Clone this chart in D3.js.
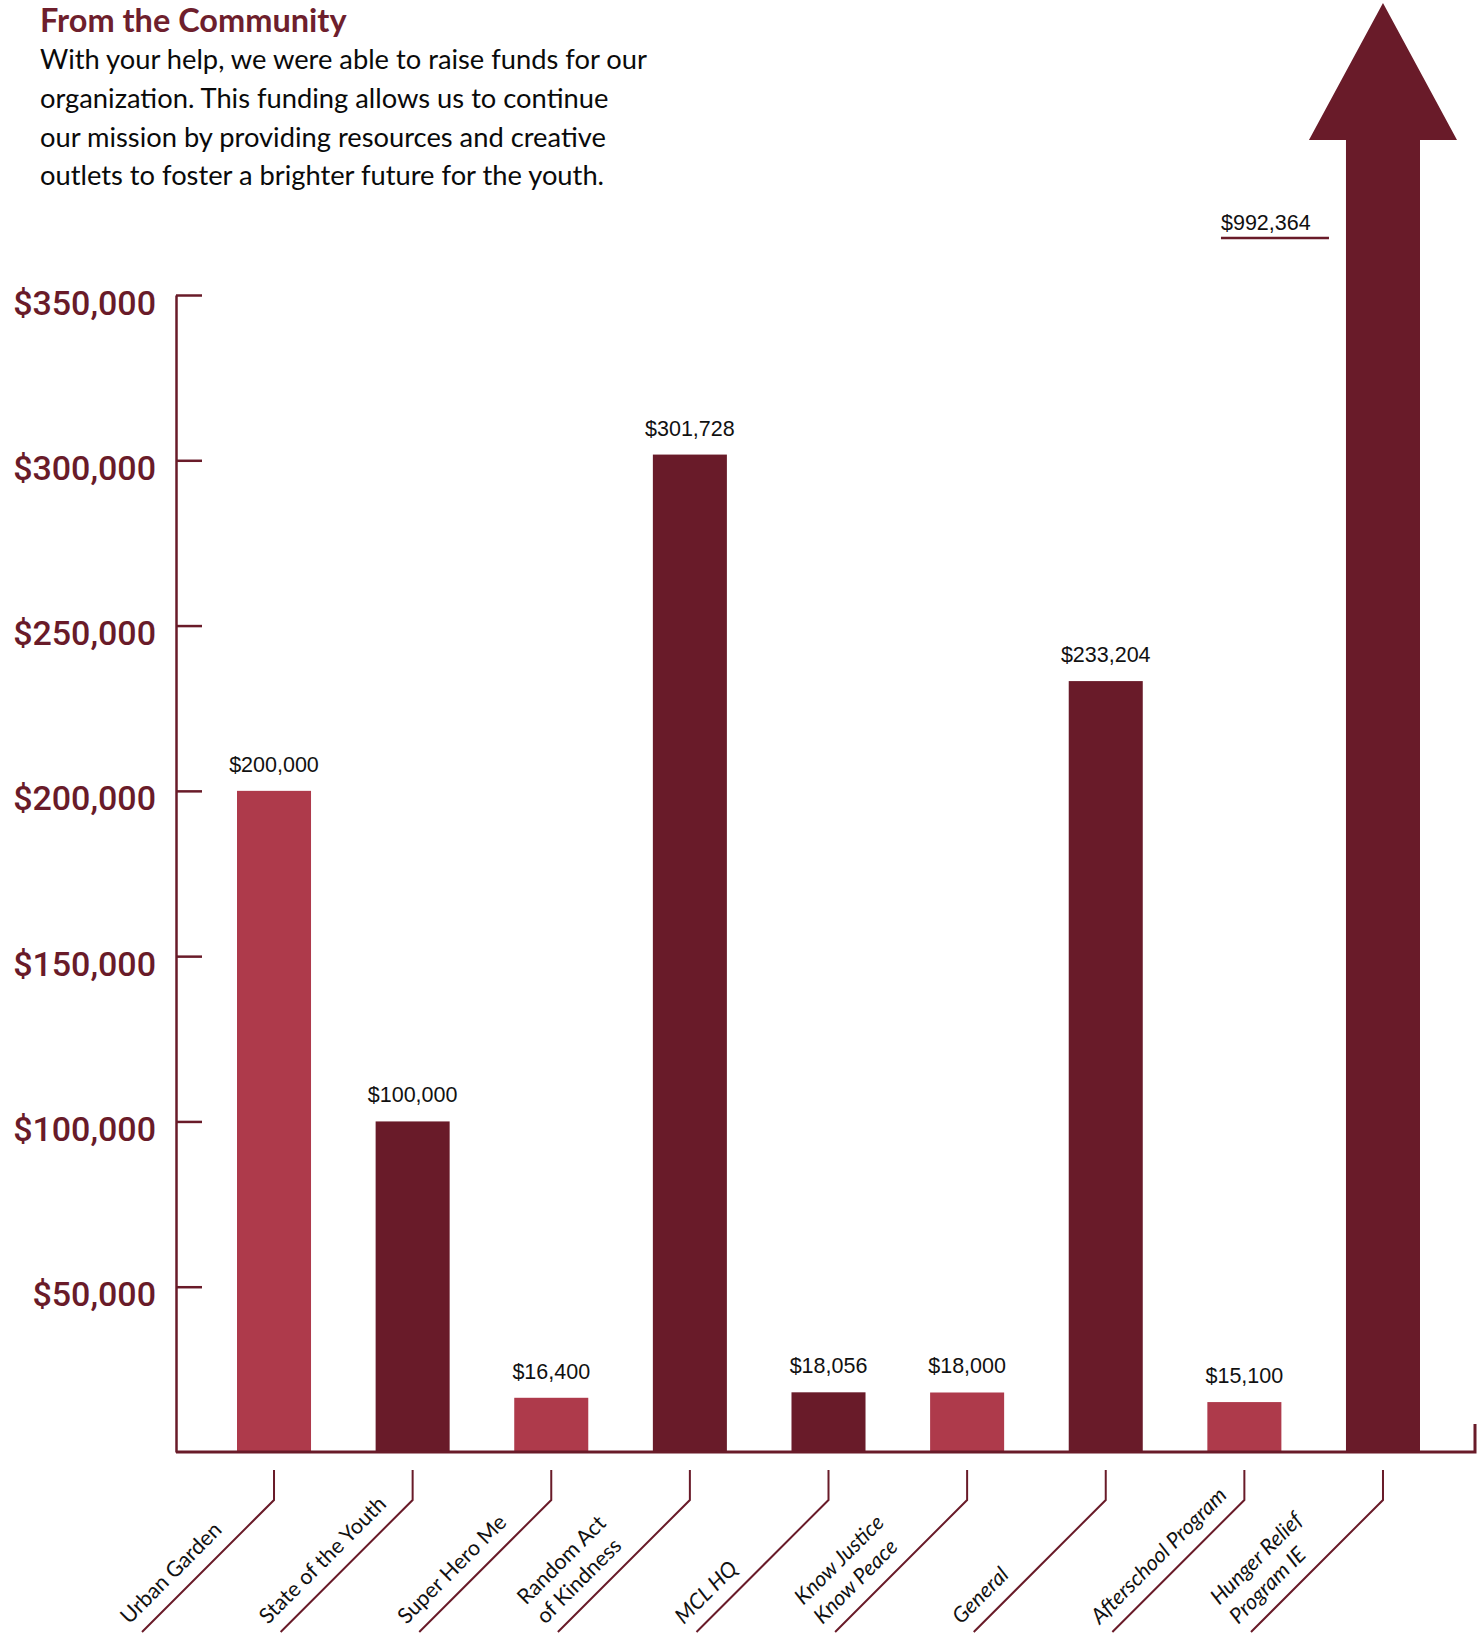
<!DOCTYPE html>
<html>
<head>
<meta charset="utf-8">
<script src="https://cdn.jsdelivr.net/npm/d3@7"></script>
<style>
  body { margin: 0; background: #fff; }
  svg { display: block; }
</style>
</head>
<body>
<script>
// data
const categories = ["Urban Garden", "State of the Youth", "Super Hero Me", "Random Act of Kindness", "MCL HQ",
  "Know Justice Know Peace", "General", "Afterschool Program", "Hunger Relief Program IE"];
const labelLines = [["Urban Garden"], ["State of the Youth"], ["Super Hero Me"], ["Random Act", "of Kindness"], ["MCL HQ"],
  ["Know Justice", "Know Peace"], ["General"], ["Afterschool Program"], ["Hunger Relief", "Program IE"]];
const amounts = [200000, 100000, 16400, 301728, 18056, 18000, 233204, 15100, 992364];
const shades = ["light", "dark", "light", "dark", "dark", "light", "dark", "light", "dark"];
const yTicks = [50000, 100000, 150000, 200000, 250000, 300000, 350000];
const title = "From the Community";
const intro = [
  "With your help, we were able to raise funds for our",
  "organization. This funding allows us to continue",
  "our mission by providing resources and creative",
  "outlets to foster a brighter future for the youth."
];

const W = 1477, H = 1642;
const maroon = "#691b29";
const colors = { light: "#ae3a4b", dark: "#691b29" };
const yMax = 350000;

const svg = d3.select("body").append("svg").attr("width", W).attr("height", H);

// header
svg.append("text")
  .attr("x", 40).attr("y", 32)
  .style("font-family", "Lato, sans-serif").style("font-weight", 700).style("font-size", "32.5px")
  .attr("fill", "#6e1f2d")
  .text(title);

svg.append("g").selectAll("text")
  .data(intro)
  .join("text")
  .attr("x", 40)
  .attr("y", (d, i) => 69 + i * 38.8)
  .style("font-family", "Lato, sans-serif").style("font-size", "27.3px")
  .attr("fill", "#0a0a0a")
  .text((d) => d);

// scales
const x = d3.scaleBand().domain(categories).range([237, 1420]).paddingInner(0.466).paddingOuter(0);
const y = d3.scaleLinear().domain([0, yMax]).range([1452, 295]);
const bw = x.bandwidth();
const axisX = 176;

// y axis
const yAxis = svg.append("g")
  .attr("transform", `translate(${axisX},0)`)
  .call(d3.axisLeft(y).tickValues(yTicks).tickSize(-26).tickSizeOuter(0).tickPadding(20)
    .tickFormat((d) => "$" + d3.format(",")(d)));
yAxis.select(".domain").attr("stroke", maroon).attr("stroke-width", 2.5);
yAxis.selectAll(".tick line").attr("stroke", maroon).attr("stroke-width", 2.5);
yAxis.selectAll(".tick text")
  .attr("dy", 19)
  .attr("fill", maroon)
  .style("font-family", "Roboto, sans-serif").style("font-weight", 500).style("font-size", "34px");

// bars (all but the off-scale one)
const rows = categories.map((c, i) => ({ c, v: amounts[i], shade: shades[i], lines: labelLines[i], i }));
const inScale = rows.filter((d) => d.v <= yMax);
const offScale = rows.filter((d) => d.v > yMax);

svg.append("g").selectAll("rect")
  .data(inScale)
  .join("rect")
  .attr("x", (d) => x(d.c))
  .attr("y", (d) => y(d.v))
  .attr("width", bw)
  .attr("height", (d) => y(0) - y(d.v))
  .attr("fill", (d) => colors[d.shade]);

svg.append("g").selectAll("text")
  .data(inScale)
  .join("text")
  .attr("x", (d) => x(d.c) + bw / 2)
  .attr("y", (d) => y(d.v) - 19)
  .attr("text-anchor", "middle")
  .style("font-family", "'Liberation Sans', Arial, sans-serif").style("font-size", "21.5px")
  .attr("fill", "#111")
  .text((d) => "$" + d3.format(",")(d.v));

// off-scale value drawn as a big arrow
const headBase = 140, tip = 3;
offScale.forEach((d) => {
  const x0 = x(d.c), x1 = x0 + bw, cx = x0 + bw / 2, ov = bw / 2;
  svg.append("path")
    .attr("d", `M${x0},${y(0)}V${headBase}H${x0 - ov}L${cx},${tip}L${x1 + ov},${headBase}H${x1}V${y(0)}Z`)
    .attr("fill", colors[d.shade]);
  svg.append("text")
    .attr("x", x0 - 125).attr("y", 230)
    .style("font-family", "'Liberation Sans', Arial, sans-serif").style("font-size", "21.5px")
    .attr("fill", "#111")
    .text("$" + d3.format(",")(d.v));
  svg.append("line")
    .attr("x1", x0 - 125).attr("x2", x0 - 17)
    .attr("y1", 238).attr("y2", 238)
    .attr("stroke", maroon).attr("stroke-width", 2.5);
});

// baseline
svg.append("path")
  .attr("d", `M${axisX},${y(0)}H${W - 2}V${y(0) - 28}`)
  .attr("fill", "none")
  .attr("stroke", maroon)
  .attr("stroke-width", 3);

// category ticks with bent leader lines and slanted labels
const drop = 132;
const cat = svg.append("g").selectAll("g")
  .data(rows)
  .join("g")
  .attr("transform", (d) => `translate(${x(d.c) + bw / 2},0)`);

cat.append("path")
  .attr("d", `M0,1470V1500L${-drop},${1500 + drop}`)
  .attr("fill", "none")
  .attr("stroke", maroon)
  .attr("stroke-width", 2);

cat.append("g")
  .attr("transform", `translate(${-drop},${1500 + drop}) rotate(-45)`)
  .selectAll("text")
  .data((d) => d.lines.map((t, k) => ({ t, k, n: d.lines.length, i: d.i })))
  .join("text")
  .attr("x", -4)
  .attr("y", (d) => -14 - (d.n - 1 - d.k) * 27)
  .style("font-family", "Lato, sans-serif").style("font-size", "21.5px")
  .style("font-style", (d) => (d.i >= 4 ? "italic" : "normal"))
  .attr("fill", "#111")
  .text((d) => d.t);
</script>
</body>
</html>
